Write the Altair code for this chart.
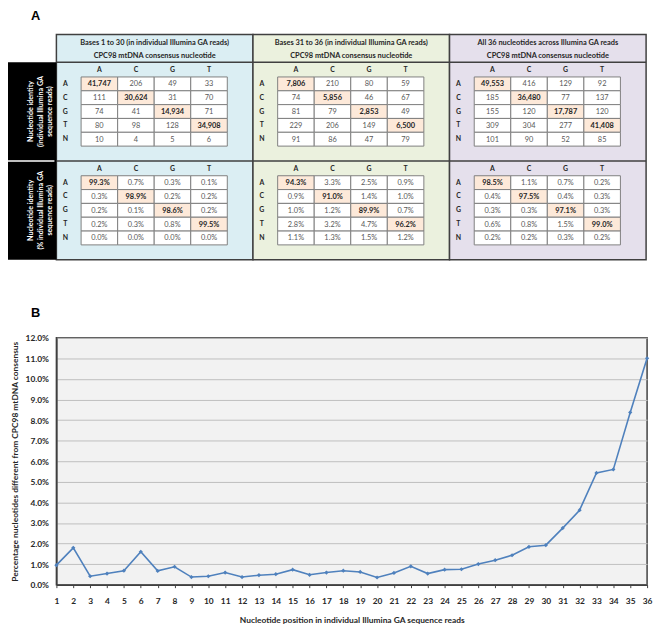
import altair as alt
import pandas as pd

# ---------------- data ----------------
consensus_bases = ["A", "C", "G", "T"]
read_bases = ["A", "C", "G", "T", "N"]
panel_titles = [
    "Bases 1 to 30 (in individual Illumina GA reads)",
    "Bases 31 to 36 (in individual Illumina GA reads)",
    "All 36 nucleotides across  Illumina GA reads",
]
panel_subtitle = "CPC98 mtDNA consensus nucleotide"
row_block_titles = [
    "Nucleotide identity\n(individual Illumina GA\nsequence reads)",
    "Nucleotide identity\n(% individual Illumina GA\nsequence reads)",
]

counts_1_30 = [[41747, 206, 49, 33], [111, 30624, 31, 70], [74, 41, 14934, 71],
               [80, 98, 128, 34908], [10, 4, 5, 6]]
counts_31_36 = [[7806, 210, 80, 59], [74, 5856, 46, 67], [81, 79, 2853, 49],
                [229, 206, 149, 6500], [91, 86, 47, 79]]
counts_all = [[49553, 416, 129, 92], [185, 36480, 77, 137], [155, 120, 17787, 120],
              [309, 304, 277, 41408], [101, 90, 52, 85]]

pct_1_30 = [[99.3, 0.7, 0.3, 0.1], [0.3, 98.9, 0.2, 0.2], [0.2, 0.1, 98.6, 0.2],
            [0.2, 0.3, 0.8, 99.5], [0.0, 0.0, 0.0, 0.0]]
pct_31_36 = [[94.3, 3.3, 2.5, 0.9], [0.9, 91.0, 1.4, 1.0], [1.0, 1.2, 89.9, 0.7],
             [2.8, 3.2, 4.7, 96.2], [1.1, 1.3, 1.5, 1.2]]
pct_all = [[98.5, 1.1, 0.7, 0.2], [0.4, 97.5, 0.4, 0.3], [0.3, 0.3, 97.1, 0.3],
           [0.6, 0.8, 1.5, 99.0], [0.2, 0.2, 0.3, 0.2]]

positions = list(range(1, 37))
pct_different = [0.95, 1.79, 0.41, 0.54, 0.68, 1.60, 0.67, 0.87, 0.37, 0.41,
                 0.59, 0.37, 0.46, 0.51, 0.73, 0.48, 0.59, 0.68, 0.62, 0.35,
                 0.57, 0.89, 0.54, 0.73, 0.75, 1.00, 1.19, 1.43, 1.84, 1.92,
                 2.75, 3.62, 5.43, 5.60, 8.37, 11.0]

# ---------------- style / layout ----------------
FONT = "Lato"
BLUE = "#4F81BD"
DARK = "#404040"
PEACH = "#FDE9D9"
PANEL_FILLS = ["#DBEEF3", "#EBF1DE", "#E5E0EC"]

PLOT_L, PLOT_T, PLOT_W, PLOT_H = 57, 338, 598, 250
PANEL_X0, PANEL_W = 57, 199
HEAD_TOP, BODY_TOP, SECT_H = 31, 59, 100
CELL_DX, CELL_DY, CELL_W, CELL_H = 25, 15, 37, 14
BLACK_X0 = 8

XS = alt.Scale(domain=[0, 662], range=[-PLOT_L, 662 - PLOT_L], nice=False, zero=False)
YS = alt.Scale(domain=[0, 626], range=[-PLOT_T, 626 - PLOT_T], nice=False, zero=False)


def X(f):
    return alt.X(f"{f}:Q", scale=XS, axis=None)


def Y(f):
    return alt.Y(f"{f}:Q", scale=YS, axis=None)


# panels
panels = []
for p in range(3):
    x0 = PANEL_X0 + p * PANEL_W
    panels.append(dict(x=x0, x2=x0 + PANEL_W, y=HEAD_TOP, y2=BODY_TOP + 2 * SECT_H,
                       fill=PANEL_FILLS[p], xc=x0 + PANEL_W / 2,
                       title=panel_titles[p], sub=panel_subtitle))
panels_df = pd.DataFrame(panels)

panel_rects = alt.Chart(panels_df).mark_rect(stroke=DARK, strokeWidth=1.5).encode(
    x=X("x"), x2=alt.X2("x2"), y=Y("y"), y2=alt.Y2("y2"),
    color=alt.Color("fill:N", scale=None))
panel_title_txt = alt.Chart(panels_df).mark_text(
    font=FONT, fontSize=7.5, fontWeight="bold", color="#262626", baseline="middle"
).encode(x=X("xc"), y=alt.Y("y_t:Q", scale=YS, axis=None), text="title:N").transform_calculate(y_t="datum.y + 9")
panel_sub_txt = alt.Chart(panels_df).mark_text(
    font=FONT, fontSize=7.5, fontWeight="bold", color="#262626", baseline="middle"
).encode(x=X("xc"), y=alt.Y("y_s:Q", scale=YS, axis=None), text="sub:N").transform_calculate(y_s="datum.y + 22")

# separator lines
seps_df = pd.DataFrame({"x": [PANEL_X0, PANEL_X0], "x2": [PANEL_X0 + 3 * PANEL_W] * 2,
                        "y": [BODY_TOP, BODY_TOP + SECT_H]})
seps = alt.Chart(seps_df).mark_rule(color=DARK, strokeWidth=1.5).encode(
    x=X("x"), x2=alt.X2("x2"), y=Y("y"))

# black row-title block
blk_df = pd.DataFrame({"x": [BLACK_X0], "x2": [PANEL_X0], "y": [BODY_TOP], "y2": [BODY_TOP + 2 * SECT_H]})
blk = alt.Chart(blk_df).mark_rect(color="black").encode(
    x=X("x"), x2=alt.X2("x2"), y=Y("y"), y2=alt.Y2("y2"))
wl_df = pd.DataFrame({"x": [BLACK_X0], "x2": [PANEL_X0 - 2], "y": [BODY_TOP + SECT_H]})
wl = alt.Chart(wl_df).mark_rule(color="white", strokeWidth=1.5).encode(
    x=X("x"), x2=alt.X2("x2"), y=Y("y"))
bt_df = pd.DataFrame({"x": [31, 31], "y": [BODY_TOP + SECT_H * (s + 0.5) for s in range(2)],
                      "t": row_block_titles})
blk_txt = alt.Chart(bt_df).mark_text(
    font=FONT, fontSize=7.2, fontWeight="bold", color="white", angle=270,
    lineBreak="\n", lineHeight=10, baseline="middle", align="center"
).encode(x=X("x"), y=Y("y"), text="t:N")

# cells
counts = [counts_1_30, counts_31_36, counts_all]
pcts = [pct_1_30, pct_31_36, pct_all]
cells, col_heads, row_heads = [], [], []
for p in range(3):
    px = PANEL_X0 + p * PANEL_W
    for s in range(2):
        table = counts[p] if s == 0 else pcts[p]
        top = BODY_TOP + s * SECT_H
        for c, b in enumerate(consensus_bases):
            col_heads.append(dict(x=px + CELL_DX + (c + 0.5) * CELL_W, y=top + 8, t=b))
        for r, b in enumerate(read_bases):
            y0 = top + CELL_DY + r * CELL_H
            row_heads.append(dict(x=px + CELL_DX - 16, y=y0 + CELL_H / 2, t=b))
            for c in range(4):
                x0 = px + CELL_DX + c * CELL_W
                v = table[r][c]
                lab = f"{v:,}" if s == 0 else f"{v:.1f}%"
                cells.append(dict(x=x0, x2=x0 + CELL_W, y=y0, y2=y0 + CELL_H,
                                  xc=x0 + CELL_W / 2, yc=y0 + CELL_H / 2 + 0.5,
                                  label=lab, diag=(r == c)))
cells_df = pd.DataFrame(cells)
cell_rects = alt.Chart(cells_df).mark_rect(stroke="#7F7F7F", strokeWidth=1).encode(
    x=X("x"), x2=alt.X2("x2"), y=Y("y"), y2=alt.Y2("y2"),
    color=alt.condition("datum.diag", alt.value(PEACH), alt.value("white")))
cell_txt = alt.Chart(cells_df[~cells_df.diag]).mark_text(
    font=FONT, fontSize=7.5, color="#595959", baseline="middle"
).encode(x=X("xc"), y=Y("yc"), text="label:N")
cell_txt_d = alt.Chart(cells_df[cells_df.diag]).mark_text(
    font=FONT, fontSize=7.5, fontWeight="bold", color="#262626", baseline="middle"
).encode(x=X("xc"), y=Y("yc"), text="label:N")
heads_df = pd.DataFrame(col_heads + row_heads)
heads_txt = alt.Chart(heads_df).mark_text(
    font=FONT, fontSize=7, fontWeight="bold", color="#262626", baseline="middle"
).encode(x=X("x"), y=Y("y"), text="t:N")

letters_df = pd.DataFrame({"x": [36, 36], "y": [12, 313], "t": ["A", "B"]})
letters = alt.Chart(letters_df).mark_text(
    font="Liberation Sans", fontSize=13, fontWeight="bold", color="black", baseline="middle"
).encode(x=X("x"), y=Y("y"), text="t:N")

table = alt.layer(panel_rects, seps, blk, wl, blk_txt, panel_title_txt, panel_sub_txt,
                  cell_rects, cell_txt, cell_txt_d, heads_txt, letters)

# ---------------- line chart ----------------
line_df = pd.DataFrame({"pos": positions, "pct": [v / 100 for v in pct_different]})
base = alt.Chart(line_df).encode(
    x=alt.X("pos:Q", scale=alt.Scale(domain=[1, 36], nice=False, zero=False),
            axis=alt.Axis(values=positions, grid=False, labelFlush=False, labelOverlap=False,
                          title="Nucleotide position in individual Illumina GA sequence reads",
                          tickSize=3, tickColor=DARK, domainColor=DARK, domainWidth=1.5,
                          labelPadding=9, titlePadding=11)),
    y=alt.Y("pct:Q", scale=alt.Scale(domain=[0, 0.12], nice=False),
            axis=alt.Axis(values=[i / 100 for i in range(13)], format=".1%", grid=True,
                          gridColor="#BFBFBF", gridWidth=1, ticks=False, labelFlush=False,
                          domainColor=DARK, domainWidth=1.5, labelPadding=8,
                          titleX=-37, titleBaseline="bottom",
                          title="Percentage nucleotides different from CPC98 mtDNA consensus")),
)
line = base.mark_line(color=BLUE, strokeWidth=1.6)
pts = base.mark_point(shape="diamond", filled=True, size=18, color=BLUE, opacity=1)
line_chart = alt.layer(line, pts)

chart = alt.layer(line_chart, table).resolve_scale(
    x="independent", y="independent"
).properties(
    width=PLOT_W, height=PLOT_H,
    autosize=alt.AutoSizeParams(type="none"),
    padding={"left": PLOT_L - 8, "top": PLOT_T - 8, "right": 7, "bottom": 37},
    background="white",
).configure_view(
    fill="#F2F2F2", stroke=DARK, strokeWidth=1.5
).configure_axis(
    labelFont=FONT, labelFontSize=8.5, labelFontWeight="bold", labelColor="#262626",
    titleFont=FONT, titleFontSize=8.5, titleFontWeight="bold", titleColor="#262626",
)

chart.save("out.html", embed_options={"renderer": "svg", "actions": False})
